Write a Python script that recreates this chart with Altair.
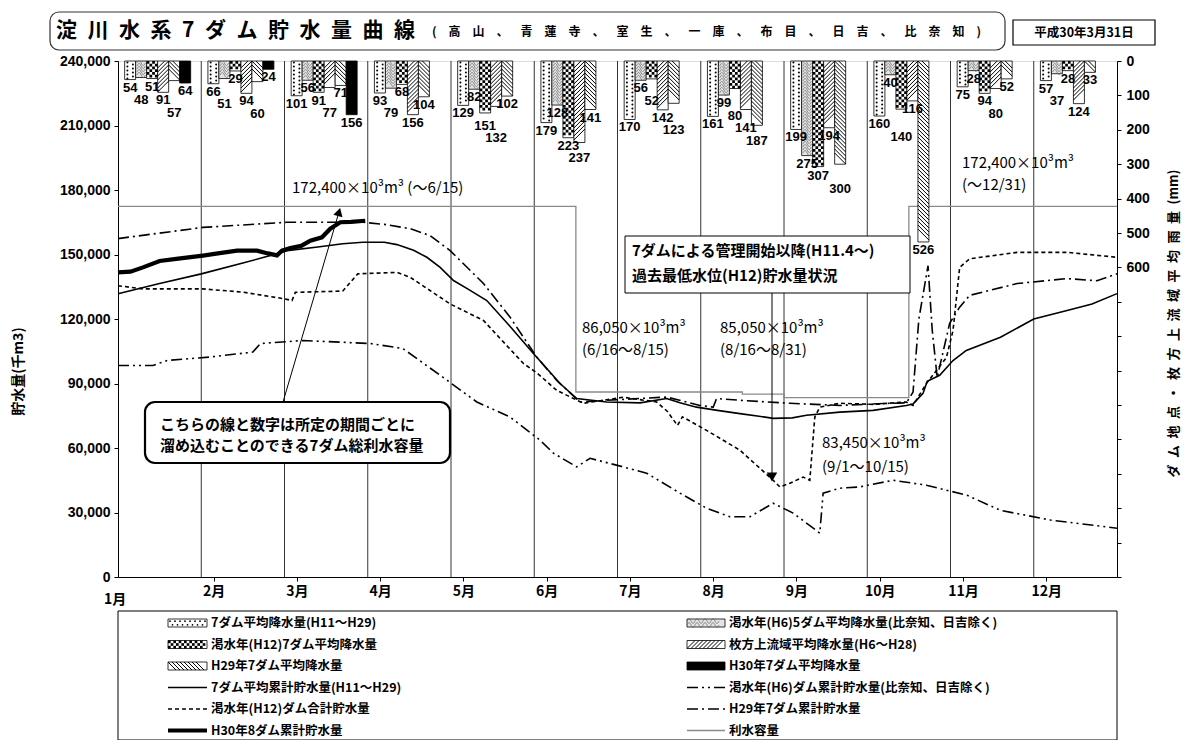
import altair as alt
import numpy as np
import pandas as pd

JP = "Noto Sans CJK JP"
NUM = "Liberation Sans"

# ---------------- texts ----------------
title_main = "淀川水系7ダム貯水量曲線"
title_sub = "(高山、青蓮寺、室生、一庫、布目、日吉、比奈知)"
date_label = "平成30年3月31日"
y_left_title = "貯水量(千m3)"
y_right_title_body = "ダム地点・枚方上流域平均雨量"
y_right_title_unit = "(mm)"
month_labels = ["1月", "2月", "3月", "4月", "5月", "6月", "7月", "8月", "9月", "10月", "11月", "12月"]

# ---------------- monthly rainfall (mm) ----------------
rain_series = [
    "7ダム平均降水量(H11〜H29)",
    "渇水年(H6)5ダム平均降水量(比奈知、日吉除く)",
    "渇水年(H12)7ダム平均降水量",
    "枚方上流域平均降水量(H6〜H28)",
    "H29年7ダム平均降水量",
    "H30年7ダム平均降水量",
]
rain_avg_h11_h29 = [54, 66, 101, 93, 129, 179, 170, 161, 199, 160, 75, 57]
rain_h6 = [48, 51, 56, 79, 82, 128, 56, 99, 275, 40, 28, 37]
rain_h12 = [51, 29, 91, 68, 151, 223, 52, 80, 307, 140, 94, 28]
rain_hirakata = [91, 94, 77, 156, 132, 237, 142, 141, 194, 116, 80, 124]
rain_h29 = [57, 60, 71, 104, 102, 141, 123, 187, 300, 526, 52, 33]
rain_h30 = [64, 24, 156]

# ---------------- storage curves (x = months elapsed since 1/1, y = 千m3) ----------------
avg_x = [0, 0.5, 1.0, 1.5, 1.91, 2.03, 2.4, 2.7, 2.94, 3.2, 3.35, 3.55, 3.71, 3.87, 4.03, 4.2, 4.43, 4.7,
         4.99, 5.15, 5.31, 5.51, 5.87, 6.27, 6.59, 6.75, 6.95, 7.2, 7.47, 7.7, 7.87, 8.1, 8.27, 8.67, 9.07,
         9.47, 9.55, 9.67, 9.72, 9.87, 10.03, 10.19, 10.6, 11.0, 11.4, 11.7, 12.0]
avg_y = [131700, 136500, 141000, 146000, 150400, 151800, 153500, 155000, 155700, 155700, 154600, 152000,
         148700, 144000, 137900, 134000, 128600, 117000, 104000, 97000, 90000, 83000, 81400, 81000, 83000,
         81000, 79000, 77500, 76000, 74800, 73800, 74000, 75200, 76700, 77500, 79800, 80500, 85400, 91000,
         93800, 100700, 105400, 111500, 120000, 124000, 127000, 131800]

h12_x = [0, 0.3, 1.02, 1.5, 1.98, 2.09, 2.13, 2.7, 2.79, 2.88, 3.35, 3.51, 3.99, 4.39, 4.87, 5.03, 5.27,
         5.59, 6.07, 6.47, 6.6, 6.72, 6.78, 7.07, 7.47, 7.87, 7.95, 8.07, 8.23, 8.31, 8.37, 8.43, 8.67, 9.07,
         9.47, 9.55, 9.71, 9.95, 10.03, 10.11, 10.23, 10.8, 11.4, 12.0]
h12_y = [135500, 134000, 134000, 132500, 129500, 128600, 132400, 133000, 137000, 141000, 141700, 139400,
         127000, 119300, 99300, 95000, 86800, 80800, 83600, 81400, 77000, 70500, 74500, 68200, 59000, 45000,
         41900, 43600, 46500, 45000, 74400, 79000, 80800, 80300, 81400, 79800, 90000, 102000, 114600, 144000,
         148000, 151000, 151000, 148700]

h30_x = [0, 0.15, 0.3, 0.5, 0.7, 1.02, 1.2, 1.43, 1.67, 1.8, 1.91, 1.97, 2.07, 2.2, 2.31, 2.45, 2.55, 2.67,
         2.8, 2.97]
h30_y = [141700, 142000, 144000, 147000, 148000, 149500, 150500, 151800, 151800, 150500, 149600, 151800,
         153000, 154000, 156400, 158000, 162000, 165000, 165200, 165700]

h6_x = [0, 0.42, 0.59, 1.1, 1.62, 1.71, 2.22, 3.03, 3.42, 3.9, 4.31, 4.71, 5.07, 5.23, 5.51, 5.67, 6.07,
        6.35, 6.75, 7.07, 7.35, 7.59, 7.87, 8.11, 8.43, 8.47, 8.67, 8.91, 9.31, 9.71, 10.2, 10.6, 11.2, 12.0]
h6_y = [98400, 98400, 100700, 102300, 104600, 108600, 110000, 108600, 106300, 93000, 81400, 74400, 63600,
        57600, 51200, 55200, 51200, 48300, 39000, 32000, 28000, 28000, 34300, 29700, 20400, 39000, 41300,
        41900, 45000, 42700, 38000, 31000, 26500, 22700]

h29_x = [0, 1.02, 2.03, 2.94, 3.2, 3.51, 3.75, 3.99, 4.39, 4.71, 5.03, 5.27, 5.55, 5.87, 6.59, 6.99, 7.15,
         7.19, 7.47, 8.07, 8.67, 9.27, 9.47, 9.55, 9.62, 9.73, 9.78, 9.84, 9.99, 10.11, 10.23, 10.8, 11.4,
         11.76, 12.0]
h29_y = [157400, 162600, 165000, 165000, 164000, 162000, 158800, 151800, 136500, 120800, 102300, 91400,
         81400, 82200, 83700, 79800, 79000, 83000, 82200, 80800, 79800, 80800, 81000, 86000, 120000, 144800,
         115000, 92800, 118000, 125500, 131000, 136500, 138800, 137800, 141000]

# 利水容量 (step line)
cap_x = [0, 5.5, 7.5, 8.0, 9.5, 12.0]
cap_y = [172400, 86050, 85050, 83450, 172400, 172400]

cap_notes = ["172,400×10³m³ (〜6/15)", "172,400×10³m³", "(〜12/31)", "86,050×10³m³", "(6/16〜8/15)",
             "85,050×10³m³", "(8/16〜8/31)", "83,450×10³m³", "(9/1〜10/15)"]
callout1 = ["こちらの線と数字は所定の期間ごとに", "溜め込むことのできる7ダム総利水容量"]
callout2 = ["7ダムによる管理開始以降(H11.4〜)", "過去最低水位(H12)貯水量状況"]

legend_left = [("dot", rain_series[0]), ("chk", rain_series[2]), ("bwd", rain_series[4]),
               ("solid", "7ダム平均累計貯水量(H11〜H29)"), ("dash", "渇水年(H12)ダム合計貯水量"),
               ("thick", "H30年8ダム累計貯水量")]
legend_right = [("wave", rain_series[1]), ("fwd", rain_series[3]), ("black", rain_series[5]),
                ("dashdotdot", "渇水年(H6)ダム累計貯水量(比奈知、日吉除く)"), ("dashdot", "H29年7ダム累計貯水量"),
                ("cap", "利水容量")]

# ---------------- layout ----------------
W, H = 999, 516
MM_MAX, ST_MAX = 1500, 240000
PXM = W / 12.0
MMPX = MM_MAX / H
BAR_W = 11 / PXM
BAR_OFF = 0.08

XS = alt.Scale(domain=[0, 12], nice=False, zero=False)
YMM = alt.Scale(domain=[0, MM_MAX], reverse=True, nice=False)
YST = alt.Scale(domain=[0, ST_MAX], nice=False)

right_title = "\u2002".join(y_right_title_body) + "\u2002" + y_right_title_unit

AX_X = alt.Axis(orient="bottom", values=[m + 0.15 for m in range(1, 12)],
                labelExpr="floor(datum.value + 1) + '月'", title=None, grid=False,
                labelFont=JP, labelFontSize=14, labelFontWeight="bold", labelColor="black",
                tickColor="black", tickSize=4, domainColor="black", labelPadding=3)
AX_L = alt.Axis(orient="left", values=list(range(0, ST_MAX + 1, 30000)),
                labelExpr="format(datum.value, ',')", grid=False,
                title=y_left_title, titleFont=JP, titleFontSize=14, titleFontWeight="bold",
                titleAngle=270, titleX=-100, titleY=310, titleAlign="center", titleBaseline="middle",
                titleColor="black",
                labelFont=NUM, labelFontSize=14, labelFontWeight="bold", labelColor="black",
                tickColor="black", tickSize=4, domainColor="black", labelPadding=4)
AX_R = alt.Axis(orient="right", values=list(range(0, MM_MAX + 1, 100)), grid=False,
                labelExpr="datum.value <= 600 ? format(datum.value, 'd') : ''",
                title=right_title, titleFont=JP, titleFontSize=13, titleFontWeight="bold",
                titleAngle=270, titleX=56, titleY=262, titleAlign="center", titleBaseline="middle",
                titleColor="black",
                labelFont=NUM, labelFontSize=14, labelFontWeight="bold", labelColor="black",
                tickColor="black", tickSize=4, domainColor="black", labelPadding=5)

# ---------------- bars table ----------------
rain_values = [rain_avg_h11_h29, rain_h6, rain_h12, rain_hirakata, rain_h29, rain_h30]
rows = []
for s, vals in enumerate(rain_values):
    for m, v in enumerate(vals):
        x0 = m + BAR_OFF + s * BAR_W
        rows.append(dict(s=str(s), si=s, m=m, v=v, x0=x0, x1=x0 + BAR_W, xc=x0 + BAR_W / 2, lbl=str(v)))
bars = pd.DataFrame(rows)

# value label placement: below each bar end, pushed down when it would collide with a neighbour label
LBL_H = 12.5
placed = {}
lbl_y = []
for r in bars.sort_values(["m", "si"]).itertuples():
    xc_px = r.xc * PXM
    w = 7.4 * len(r.lbl) + 2
    y = r.v / MMPX + 2
    moved = True
    while moved:
        moved = False
        for (px_, py_, pw_) in placed.get(r.m, []):
            if abs(xc_px - px_) < (w + pw_) / 2 and y < py_ + LBL_H and py_ < y + LBL_H:
                y = py_ + LBL_H
                moved = True
    placed.setdefault(r.m, []).append((xc_px, y, w))
    lbl_y.append((r.Index, y * MMPX))
for idx, yv in lbl_y:
    bars.loc[idx, "ly"] = yv

dot_rows, wave_rows, chk_rows, fwd_rows, bwd_rows = [], [], [], [], []
CELL = 11 / 4
for r in bars.itertuples():
    if r.si == 0:
        for k, yy in enumerate(np.arange(1.5 * MMPX, r.v - MMPX, 2 * MMPX)):
            dot_rows.append(dict(x=r.xc + (BAR_W / 4 if k % 2 else -BAR_W / 4), y=yy))
    elif r.si == 1:
        for yy in np.arange(2 * MMPX, r.v - 1.5 * MMPX, 3 * MMPX):
            wave_rows.append(dict(x=r.xc, y=yy))
    elif r.si == 2:
        for i in range(int(r.v / (CELL * MMPX))):
            for c in range(4):
                if (i + c) % 2 == 0:
                    chk_rows.append(dict(x=r.xc + (c - 1.5) * CELL / PXM, y=(i + 0.5) * CELL * MMPX))
    elif r.si in (3, 4):
        tgt = fwd_rows if r.si == 3 else bwd_rows
        for yy in np.arange(1.5 * MMPX, r.v - 5.5 * MMPX + 0.01, 4 * MMPX):
            tgt.append(dict(x=r.xc, y=yy))

FWD = "M-1,1L1,-1"
BWD = "M-1,-1L1,1"
WAVE = "M-1,0C-0.6,-0.8,-0.4,-0.8,0,0C0.4,0.8,0.6,0.8,1,0"


def xq(f):
    return alt.X(f, type="quantitative", scale=XS, axis=None)


def ymm(f):
    return alt.Y(f, type="quantitative", scale=YMM, axis=AX_R, stack=None)


bar_layer = alt.Chart(bars).mark_bar(stroke="black", strokeWidth=0.8).encode(
    x=xq("x0"), x2="x1:Q", y=ymm("v"), y2=alt.datum(0),
    fill=alt.Fill("s:N", scale=alt.Scale(domain=[str(i) for i in range(6)],
                                         range=["white", "#e4e4e4", "white", "white", "white", "black"]),
                  legend=None))


def deco(rows_, **mk):
    return alt.Chart(pd.DataFrame(rows_)).mark_point(opacity=1, clip=True, **mk).encode(
        x=xq("x"), y=ymm("y"))


dot_layer = deco(dot_rows, shape="circle", filled=True, size=4, color="black")
wave_layer = deco(wave_rows, shape=WAVE, filled=False, size=72, color="#666", strokeWidth=0.7)
chk_layer = deco(chk_rows, shape="square", filled=True, size=CELL * CELL, color="black")
fwd_layer = deco(fwd_rows, shape=FWD, filled=False, size=121, color="black", strokeWidth=1)
bwd_layer = deco(bwd_rows, shape=BWD, filled=False, size=121, color="black", strokeWidth=1)

lbl_layer = alt.Chart(bars).mark_text(
    baseline="top", font=NUM, fontSize=13, fontWeight="bold", color="black").encode(
    x=xq("xc"), y=ymm("ly"), text="lbl:N")

group_bars = alt.layer(bar_layer, dot_layer, wave_layer, chk_layer, fwd_layer, bwd_layer, lbl_layer)

# ---------------- storage lines ----------------
def xs_ax(f):
    return alt.X(f, type="quantitative", scale=XS, axis=AX_X)


def line_layer(xv, yv, **mk):
    df = pd.DataFrame({"x": xv, "y": yv})
    return alt.Chart(df).mark_line(**mk).encode(
        x=xs_ax("x"), y=alt.Y("y:Q", scale=YST, axis=AX_L))


grid = alt.Chart(pd.DataFrame({"m": list(range(1, 12))})).mark_rule(
    color="black", strokeWidth=0.8).encode(x=xs_ax("m"))
cap_line = line_layer(cap_x, cap_y, interpolate="step-after", color="#8a8a8a", strokeWidth=1.3)
l_h6 = line_layer(h6_x, h6_y, color="black", strokeWidth=1.6, strokeDash=[11, 4, 2, 4, 2, 4])
l_h29 = line_layer(h29_x, h29_y, color="black", strokeWidth=1.6, strokeDash=[11, 4, 2, 4])
l_h12 = line_layer(h12_x, h12_y, color="black", strokeWidth=1.6, strokeDash=[4, 3])
l_avg = line_layer(avg_x, avg_y, color="black", strokeWidth=1.6)
l_h30 = line_layer(h30_x, h30_y, color="black", strokeWidth=4.2)

group_lines = alt.layer(grid, cap_line, l_h6, l_h29, l_h12, l_avg, l_h30)

# ---------------- pixel-positioned annotations ----------------
def XP(f):
    return alt.X(f, type="quantitative", scale=None, axis=None)


def YP(f):
    return alt.Y(f, type="quantitative", scale=None, axis=None)


def rect_px(x, x2, y, y2, **mk):
    df = pd.DataFrame([dict(x=x, x2=x2, y=y, y2=y2)])
    return alt.Chart(df).mark_rect(**mk).encode(x=XP("x"), x2="x2:Q", y=YP("y"), y2="y2:Q")


def text_px(items, **mk):
    df = pd.DataFrame([dict(t=t, x=x, y=y) for t, x, y in items])
    return alt.Chart(df).mark_text(baseline="middle", color="black", **mk).encode(
        x=XP("x"), y=YP("y"), text="t:N")


def rule_px(segs, **mk):
    df = pd.DataFrame([dict(x=a, y=b, x2=c, y2=d) for a, b, c, d in segs])
    return alt.Chart(df).mark_rule(**mk).encode(x=XP("x"), y=YP("y"), x2="x2:Q", y2="y2:Q")


def pts_px(rows_, **mk):
    return alt.Chart(pd.DataFrame(rows_)).mark_point(opacity=1, **mk).encode(x=XP("x"), y=YP("y"))


ann = []
# title
ann.append(rect_px(-68, 887, -49, -11, fill="white", stroke="#333", strokeWidth=1.2, cornerRadius=9))
ann.append(text_px([("\u2002".join(title_main), -62, -30)], align="left", font=JP, fontSize=21,
                   fontWeight="bold"))
ann.append(text_px([("\u2003".join(title_sub), 314, -29)], align="left", font=JP, fontSize=12,
                   fontWeight="bold"))
ann.append(rect_px(895, 1037, -41, -16, fill="white", stroke="black", strokeWidth=1.2))
ann.append(text_px([(date_label, 966, -28.5)], align="center", font=JP, fontSize=12.5, fontWeight="bold"))

# capacity notes
note_pos = [(174, 127), (844, 102), (844, 124), (464, 267), (464, 289), (602, 267), (602, 289),
            (704, 382), (704, 406)]
ann.append(text_px([(t, p[0], p[1]) for t, p in zip(cap_notes, note_pos)], align="left", font=JP,
                   fontSize=15))

# callout 1
ann.append(rect_px(27, 332, 341, 402, fill="white", stroke="black", strokeWidth=2.2, cornerRadius=10))
ann.append(text_px([(callout1[0], 42, 364), (callout1[1], 42, 385)], align="left", font=JP, fontSize=15,
                   fontWeight="bold"))
ann.append(rule_px([(165, 341, 221, 151)], color="black", strokeWidth=1))
ann.append(pts_px([dict(x=221, y=151)], shape="triangle-up", angle=16, filled=True, size=90, color="black"))

# callout 2
ann.append(rect_px(507, 792, 175, 232, fill="white", stroke="black", strokeWidth=1))
ann.append(text_px([(callout2[0], 514, 190), (callout2[1], 514, 215)], align="left", font=JP, fontSize=15,
                   fontWeight="bold"))
ann.append(rule_px([(654, 232, 654, 414)], color="black", strokeWidth=1))
ann.append(pts_px([dict(x=654, y=416)], shape="triangle-down", filled=True, size=110, color="black"))

# 1月 label
ann.append(text_px([(month_labels[0], -3, 539)], align="center", font=JP, fontSize=14, fontWeight="bold"))

# legend
LEG_Y0, LEG_DY = 562, 21.5
ann.append(rect_px(0, W, 550, 679, fill="white", stroke="black", strokeWidth=1))
leg_text = []
patch_white, patch_light, patch_black = [], [], []
ldot, lchk, lwave, lfwd, lbwd = [], [], [], [], []
line_styles = {}
for col, (items, x0, x1, tx) in enumerate([(legend_left, 50, 89, 93), (legend_right, 569, 607, 611)]):
    for i, (kind, label) in enumerate(items):
        yc = LEG_Y0 + i * LEG_DY
        leg_text.append((label, tx, yc))
        if kind in ("dot", "chk", "fwd", "bwd"):
            patch_white.append((x0, x1, yc))
        elif kind == "wave":
            patch_light.append((x0, x1, yc))
        elif kind == "black":
            patch_black.append((x0, x1, yc))
        else:
            line_styles[kind] = (x0, x1, yc)
        if kind == "dot":
            for k, xx in enumerate(np.arange(x0 + 2, x1 - 1, 2.5)):
                ldot.append(dict(x=xx, y=yc + (-1.8 if k % 2 == 0 else 1.8)))
        elif kind == "chk":
            cell = 8 / 3
            for ii in range(3):
                for c in range(int((x1 - x0) / cell)):
                    if (ii + c) % 2 == 0:
                        lchk.append(dict(x=x0 + (c + 0.5) * cell, y=yc - 4 + (ii + 0.5) * cell))
        elif kind == "wave":
            for xx in np.arange(x0 + 4, x1 - 3, 8):
                for yy in (yc - 2, yc + 2):
                    lwave.append(dict(x=xx, y=yy))
        elif kind in ("fwd", "bwd"):
            for xx in np.arange(x0 + 4, x1 - 3.9, 4):
                (lfwd if kind == "fwd" else lbwd).append(dict(x=xx, y=yc))


def patches(lst, **mk):
    df = pd.DataFrame([dict(x=a, x2=b, y=c - 4, y2=c + 4) for a, b, c in lst])
    return alt.Chart(df).mark_rect(**mk).encode(x=XP("x"), x2="x2:Q", y=YP("y"), y2="y2:Q")


ann.append(patches(patch_white, fill="white", stroke="black", strokeWidth=0.8))
ann.append(patches(patch_light, fill="#e4e4e4", stroke="black", strokeWidth=0.8))
ann.append(patches(patch_black, fill="black", stroke="black", strokeWidth=0.8))
ann.append(pts_px(ldot, shape="circle", filled=True, size=3, color="black"))
ann.append(pts_px(lchk, shape="square", filled=True, size=(8 / 3) ** 2, color="black"))
ann.append(pts_px(lwave, shape=WAVE, filled=False, size=64, color="#666", strokeWidth=0.7))
ann.append(pts_px(lfwd, shape=FWD, filled=False, size=64, color="black", strokeWidth=1))
ann.append(pts_px(lbwd, shape=BWD, filled=False, size=64, color="black", strokeWidth=1))

style_map = {
    "solid": dict(color="black", strokeWidth=1.6),
    "dash": dict(color="black", strokeWidth=1.6, strokeDash=[4, 3]),
    "thick": dict(color="black", strokeWidth=4.2),
    "dashdotdot": dict(color="black", strokeWidth=1.6, strokeDash=[11, 4, 2, 4, 2, 4]),
    "dashdot": dict(color="black", strokeWidth=1.6, strokeDash=[11, 4, 2, 4]),
    "cap": dict(color="#8a8a8a", strokeWidth=1.3),
}
for kind, (x0, x1, yc) in line_styles.items():
    ann.append(rule_px([(x0, yc, x1, yc)], **style_map[kind]))
ann.append(text_px(leg_text, align="left", font=JP, fontSize=12.5, fontWeight="bold"))

group_ann = alt.layer(*ann)

chart = alt.layer(group_lines, group_bars, group_ann).resolve_scale(
    x="independent", y="independent"
).properties(
    width=W, height=H,
    autosize=alt.AutoSizeParams(type="none"),
    padding={"left": 110, "top": 53, "right": 76, "bottom": 163},
).configure_view(stroke="black", strokeWidth=1).configure(background="white")

chart.save("out.html", embed_options={"renderer": "svg", "actions": False})
